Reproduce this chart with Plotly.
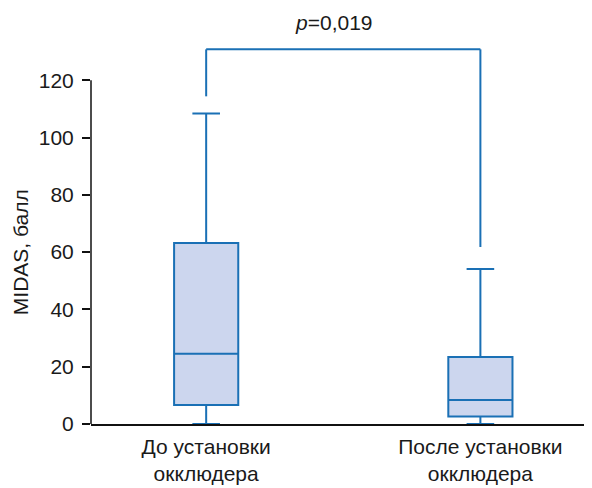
import plotly.graph_objects as go

categories = ["До установки<br>окклюдера", "После установки<br>окклюдера"]
positions = [0, 1]
q1 = [6.6, 2.6]
median = [24.5, 8.4]
q3 = [63.2, 23.4]
lowerfence = [0, 0]
upperfence = [108.4, 54.1]
y_ticks = [0, 20, 40, 60, 80, 100, 120]
p_label = "<i>p</i>=0,019"
bracket_top = 130.8
bracket_left_bottom = 114.4
bracket_right_bottom = 61.8

LINE = "#1a70b5"
FILL = "#ccd6ee"
FONT = "Liberation Sans, Arial, sans-serif"
TXT = "#1a1a1a"
FS = 21

fig = go.Figure()
fig.add_trace(go.Box(
    x=positions, q1=q1, median=median, q3=q3,
    lowerfence=lowerfence, upperfence=upperfence,
    width=0.234, whiskerwidth=0.43,
    fillcolor=FILL, line=dict(color=LINE, width=2),
    boxpoints=False, hoverinfo="skip", showlegend=False,
))

# significance bracket
fig.add_shape(type="line", xref="x", yref="y",
              x0=positions[0], x1=positions[0], y0=bracket_left_bottom, y1=bracket_top,
              line=dict(color=LINE, width=2))
fig.add_shape(type="line", xref="x", yref="y",
              x0=positions[0], x1=positions[1], y0=bracket_top, y1=bracket_top,
              line=dict(color=LINE, width=2))
fig.add_shape(type="line", xref="x", yref="y",
              x0=positions[1], x1=positions[1], y0=bracket_right_bottom, y1=bracket_top,
              line=dict(color=LINE, width=2))
fig.add_annotation(x=0.5, y=bracket_top, xref="x", yref="y", text=p_label,
                   showarrow=False, yanchor="bottom", yshift=13, xshift=-9,
                   font=dict(family=FONT, size=FS, color=TXT))

# y axis line from 0 to 120
fig.add_shape(type="line", xref="paper", yref="y", x0=0, x1=0, y0=0, y1=max(y_ticks),
              line=dict(color="#111111", width=1.5))

fig.add_annotation(x=0, y=60, xref="paper", yref="y", text="MIDAS, балл",
                   showarrow=False, textangle=-90, xanchor="center", xshift=-71,
                   font=dict(family=FONT, size=FS, color=TXT))

fig.update_layout(
    width=584, height=480,
    margin=dict(l=83, r=0, t=15, b=64, autoexpand=False),
    paper_bgcolor="white", plot_bgcolor="white",
    font=dict(family=FONT, size=FS, color=TXT),
    xaxis=dict(range=[-0.42, 1.407], tickvals=positions, ticktext=categories,
               showline=True, linecolor="#111111", linewidth=1.5,
               ticks="", showgrid=False, zeroline=False, automargin=False,
               ticklabelstandoff=3, tickfont=dict(size=FS)),
    yaxis=dict(range=[0, 140], tickvals=y_ticks, ticks="outside", ticklen=8,
               tickwidth=1.5, tickcolor="#111111", showline=False,
               showgrid=False, zeroline=False, ticklabelstandoff=4, automargin=False,
               tickfont=dict(size=FS)),
)

fig.write_html("out.html")
